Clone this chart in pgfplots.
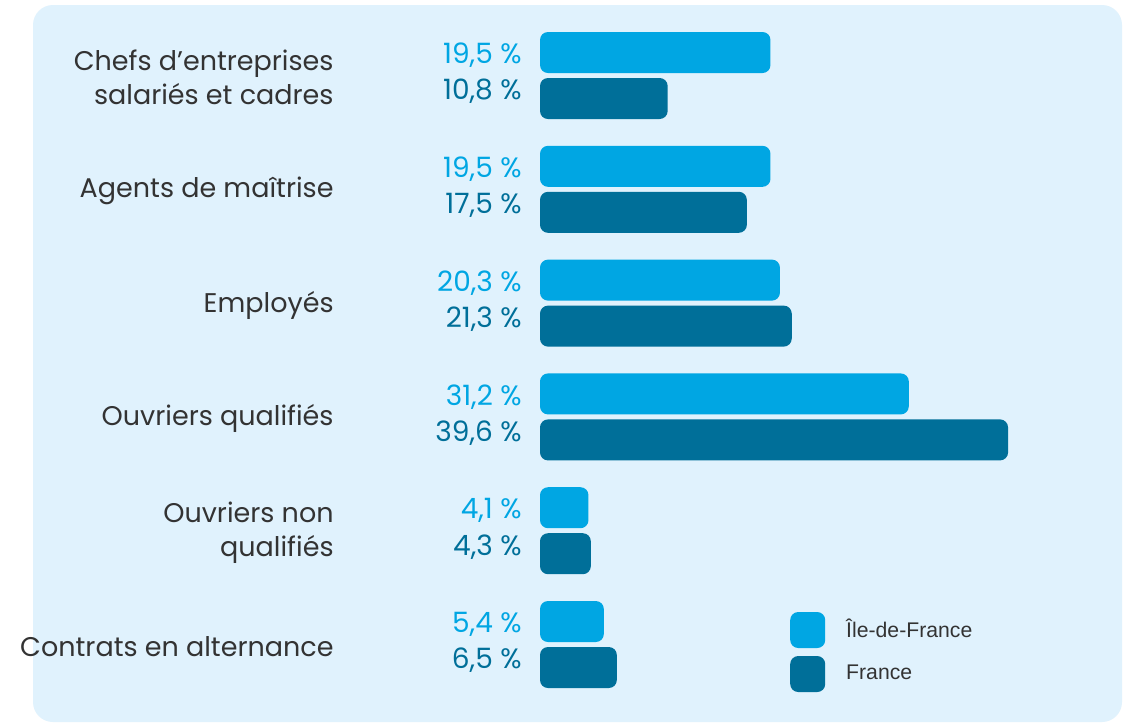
\documentclass[border=0pt]{standalone}
\usepackage{fontspec}
\setmainfont{Poppins}
\newfontfamily\legfont{Liberation Sans}
\usepackage{pgfplots}
\usepackage{pgfplotstable}
\pgfplotsset{compat=1.18}
\definecolor{ile}{RGB}{0,166,227}
\definecolor{fra}{RGB}{0,111,153}
\definecolor{panel}{RGB}{224,242,253}
\definecolor{txt}{RGB}{51,51,51}

% parts of each socio-professional category, in %
\pgfplotstableread{
idx ile fra
0 19.5 10.8
1 19.5 17.5
2 20.3 21.3
3 31.2 39.6
4 4.1 4.3
5 5.4 6.5
}\datatable

\pgfplotsset{
  legsq/.style={legend image code/.code={%
    \fill[##1, rounded corners=4pt] (0pt,-9pt) rectangle (17.5pt,9pt);}},
  vallabel/.style={forget plot, only marks, mark=none, point meta=explicit,
    nodes near coords={\pgfmathprintnumber[fixed,fixed zerofill,precision=1,use comma,assume math mode=true]{\pgfplotspointmeta}\ \%},
    nodes near coords style={anchor=east, inner sep=0pt, xshift=-9pt,
      font=\fontsize{14}{16}\selectfont, text=#1}},
}

\begin{document}
\begin{tikzpicture}
\useasboundingbox (0pt,0pt) rectangle (562pt,-361.5pt);
\fill[white] (0pt,0pt) rectangle (562pt,-361.5pt);
\fill[panel, rounded corners=10pt] (16.5pt,-2.5pt) rectangle (561pt,-361pt);
\begin{axis}[
  at={(270pt,0pt)}, anchor=north west,
  x=5.91pt, y=56.9pt, y dir=reverse,
  xmin=0, xmax=49.2, ymin=-0.6634, ymax=5.690,
  clip=false,
  axis line style={draw=none},
  tick style={draw=none},
  xtick=\empty,
  ytick={0,...,5},
  yticklabels={{Chefs d’entreprises\\salariés et cadres},Agents de maîtrise,Employés,Ouvriers qualifiés,{Ouvriers non\\qualifiés},Contrats en alternance},
  yticklabel style={align=right, anchor=east, inner sep=0pt, xshift=-103pt,
    yshift=-1pt, font=\fontsize{13.5}{17}\selectfont, text=txt},
  legend style={at={(axis description cs:0.4296,0.0982)}, anchor=west,
    draw=none, fill=none, inner sep=0pt, row sep=4pt, column sep=10.5pt,
    font=\legfont\fontsize{10.6}{12}\selectfont, text=txt,
    nodes={inner sep=0pt}},
  legend cell align=left,
]
\addplot[xbar, bar width=20.5pt, bar shift=11.5pt, fill=ile, draw=none,
  rounded corners=4pt, legsq] table[x=ile, y=idx] {\datatable};
\addlegendentry{Île-de-France}
\addplot[xbar, bar width=20.5pt, bar shift=-11.5pt, fill=fra, draw=none,
  rounded corners=4pt, legsq] table[x=fra, y=idx] {\datatable};
\addlegendentry{France}
\addplot[vallabel=ile, nodes near coords style={yshift=10pt}]
  table[x expr=0, y=idx, meta=ile] {\datatable};
\addplot[vallabel=fra, nodes near coords style={yshift=-8pt}]
  table[x expr=0, y=idx, meta=fra] {\datatable};
\end{axis}
\end{tikzpicture}
\end{document}
